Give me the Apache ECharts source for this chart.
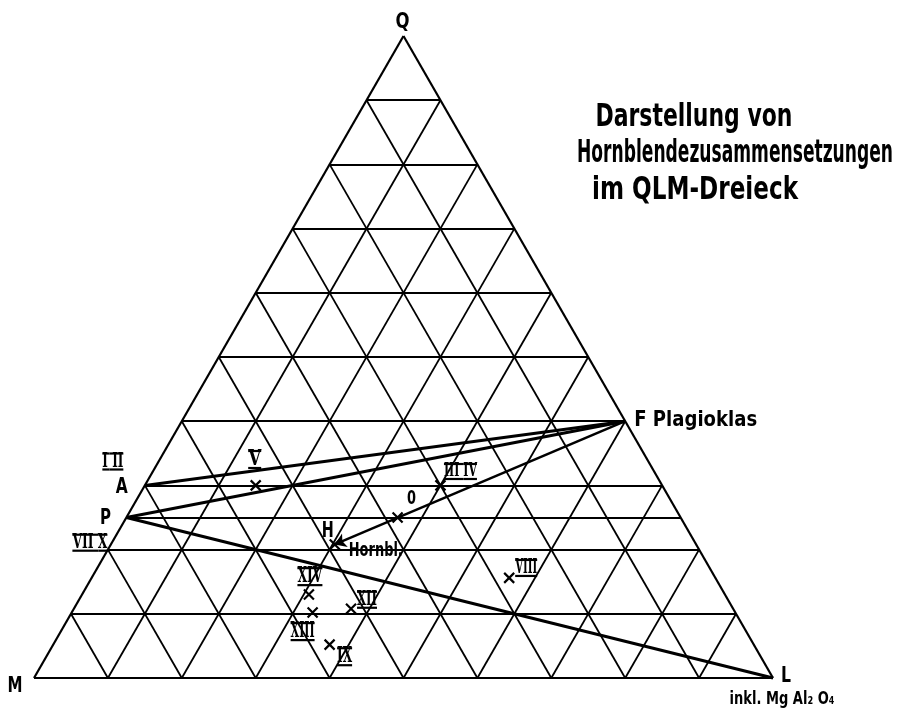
<!DOCTYPE html>
<html>
<head>
<meta charset="utf-8">
<script src="https://cdn.jsdelivr.net/npm/echarts@6/dist/echarts.min.js"></script>
<style>
  html, body { margin: 0; background: #fff; }
  #chart { width: 901px; height: 711px; }
</style>
</head>
<body>
<div id="chart"></div>
<script>
// ternary percentages: Q = top corner, L = right corner, M = 100 - Q - L (left corner)
const gridSteps = [10, 20, 30, 40, 50, 60, 70, 80, 90];
const extraLevels = [25];

const endNames = ['A', 'P', 'F', 'L'];
const endQ = [30, 25, 40, 0];
const endL = [0, 0, 60, 100];
const tieLines = [['A', 'F'], ['P', 'F'], ['P', 'L']];

const sampleNames = ['V', 'III IV', '0', 'H', 'XIV', 'XIII', 'XII', 'IX', 'VIII'];
const sampleQ = [30, 30, 25, 20.8, 13, 10.2, 10.8, 5.2, 15.6];
const sampleL = [15, 40, 36.7, 30.3, 30.7, 32.6, 37.5, 37.4, 56.5];

const edgeNames = ['I II', 'VII X'];
const edgeQ = [30, 20];

const arrowFrom = 'F';
const arrowTo = 'H';

const SQ = Math.sqrt(3) / 2;
function tern(q, l) { return [l + q / 2, q * SQ]; }
function endPt(name) { const i = endNames.indexOf(name); return tern(endQ[i], endL[i]); }
function samplePt(name) { const i = sampleNames.indexOf(name); return tern(sampleQ[i], sampleL[i]); }
function seg(a, b) { return { coords: [a, b] }; }

const gridSegs = [];
gridSteps.forEach(k => {
  gridSegs.push(seg(tern(k, 0), tern(k, 100 - k)));        // constant Q
  gridSegs.push(seg(tern(0, k), tern(100 - k, k)));        // constant L
  gridSegs.push(seg(tern(0, 100 - k), tern(100 - k, 0)));  // constant M
});
const outline = [seg(tern(0, 0), tern(0, 100)), seg(tern(0, 100), tern(100, 0)), seg(tern(100, 0), tern(0, 0))];
const levelSegs = extraLevels.map(k => seg(tern(k, 0), tern(k, 100 - k)));
const tieSegs = tieLines.map(p => seg(endPt(p[0]), endPt(p[1])));
const arrowSeg = [seg(endPt(arrowFrom), samplePt(arrowTo))];

const ink = '#000';
const chart = echarts.init(document.getElementById('chart'));
chart.setOption({
  animation: false,
  backgroundColor: '#fff',
  grid: { left: 34, top: 36, width: 739, height: 642 },
  xAxis: { type: 'value', min: 0, max: 100, show: false },
  yAxis: { type: 'value', min: 0, max: 100 * SQ, show: false },
  series: [
    { type: 'lines', coordinateSystem: 'cartesian2d', silent: true, clip: false,
      lineStyle: { color: ink, width: 1.8, opacity: 1 }, data: gridSegs },
    { type: 'lines', coordinateSystem: 'cartesian2d', silent: true, clip: false,
      lineStyle: { color: ink, width: 2.2, opacity: 1 }, data: outline },
    { type: 'lines', coordinateSystem: 'cartesian2d', silent: true, clip: false,
      lineStyle: { color: ink, width: 2.2, opacity: 1 }, data: levelSegs },
    { type: 'lines', coordinateSystem: 'cartesian2d', silent: true, clip: false,
      lineStyle: { color: ink, width: 3, opacity: 1 }, data: tieSegs },
    { type: 'lines', coordinateSystem: 'cartesian2d', silent: true, clip: false,
      symbol: ['none', 'arrow'], symbolSize: 11,
      lineStyle: { color: ink, width: 2.5, opacity: 1 }, data: arrowSeg },
    { type: 'scatter', silent: true, clip: false,
      symbol: 'path://M0,0L10,10M10,0L0,10', symbolSize: 10,
      itemStyle: { color: 'rgba(0,0,0,0)', borderColor: ink, borderWidth: 2.2, opacity: 1 },
      data: sampleNames.map(samplePt) }
  ]
});

// text labels fitted to the cap height and width of the narrow hand lettering
const measureCtx = document.createElement('canvas').getContext('2d');
function fontOf(weight, size, family) { return weight + ' ' + size + 'px "' + family + '"'; }
function measure(text, font) { measureCtx.font = font; return measureCtx.measureText(text).width; }
function label(text, x, y, capH, width, opts) {
  opts = opts || {};
  const family = opts.family || 'DejaVu Sans';
  const weight = opts.weight || 'bold';
  const s0 = capH / 0.73;
  const ratio = width / measure(text, fontOf(weight, s0, family));
  const size = ratio < 1 ? s0 * Math.sqrt(ratio) : s0;
  const font = fontOf(weight, size, family);
  const align = opts.align || 'center';
  return {
    type: 'text', x: x, y: y, silent: true,
    scaleX: width / measure(text, font), scaleY: s0 / size,
    style: { text: text, font: font, fill: ink, textAlign: align, align: align,
      textVerticalAlign: 'middle', verticalAlign: 'middle' }
  };
}
// roman numerals of the drawing are lettered with a bar above and below
function numeral(text, x, y, capH, width) {
  const out = [label(text, x, y, capH, width, { family: 'DejaVu Serif', weight: 'bold' })];
  text.split(' ').forEach((part, i, all) => {
    const w = all.length > 1 ? width * part.length / (text.length - all.length + 1) : width;
    const x0 = all.length > 1 ? (i === 0 ? x - width / 2 : x + width / 2 - w) : x - width / 2;
    [-1, 1].forEach(side => out.push({
      type: 'rect', silent: true,
      shape: { x: x0, y: y + side * (capH / 2 + 0.5) - 1, width: w, height: 2.2 },
      style: { fill: ink }
    }));
  });
  return out;
}
function px(pt) { return chart.convertToPixel({ gridIndex: 0 }, pt); }

// [dx, dy, cap height, width]
const sampleLabelOffset = {
  'V': [-1, -26, 16, 13], 'III IV': [20, -14, 14, 33], '0': [14, -18, 14, 9], 'H': [-7, -13, 15, 12],
  'XIV': [1, -18, 16, 25], 'XIII': [-10, 19, 16, 24], 'XII': [16, -9, 15, 20], 'IX': [15, 12, 16, 15], 'VIII': [17, -10, 15, 22]
};

let texts = [
  label('Darstellung von', 694, 118, 23, 197),
  label('Hornblendezusammensetzungen', 735, 154, 23, 316),
  label('im QLM-Dreieck', 695, 191, 23, 206)
];

const q = px(tern(100, 0)), m = px(tern(0, 0)), l = px(tern(0, 100));
texts.push(label('Q', q[0] - 1, q[1] - 14, 16, 14));
texts.push(label('M', m[0] - 19, m[1] + 8, 16, 15));
texts.push(label('L', l[0] + 13, l[1] - 2, 16, 10));
texts.push(label('inkl. Mg Al₂ O₄', l[0] + 9, l[1] + 21, 13, 105));

const f = px(endPt('F')), a = px(endPt('A')), p = px(endPt('P'));
texts.push(label('F Plagioklas', f[0] + 9, f[1] - 1, 15, 123, { align: 'left' }));
texts.push(label('A', a[0] - 23, a[1] + 2, 15, 12));
texts.push(label('P', p[0] - 21, p[1] + 1, 15, 11));

const edgeOffset = { 'I II': [-32, -24, 15, 21], 'VII X': [-18, -7, 15, 35] };
edgeNames.forEach((name, i) => {
  const e = px(tern(edgeQ[i], 0));
  const o = edgeOffset[name];
  texts = texts.concat(numeral(name, e[0] + o[0], e[1] + o[1], o[2], o[3]));
});

sampleNames.forEach(name => {
  const s = px(samplePt(name));
  const o = sampleLabelOffset[name];
  if (name === '0' || name === 'H') texts.push(label(name, s[0] + o[0], s[1] + o[1], o[2], o[3]));
  else texts = texts.concat(numeral(name, s[0] + o[0], s[1] + o[1], o[2], o[3]));
});
const h = px(samplePt('H'));
texts.push(label('Hornbl.', h[0] + 41, h[1] + 7, 14, 54));

chart.setOption({ graphic: texts });
</script>
</body>
</html>
